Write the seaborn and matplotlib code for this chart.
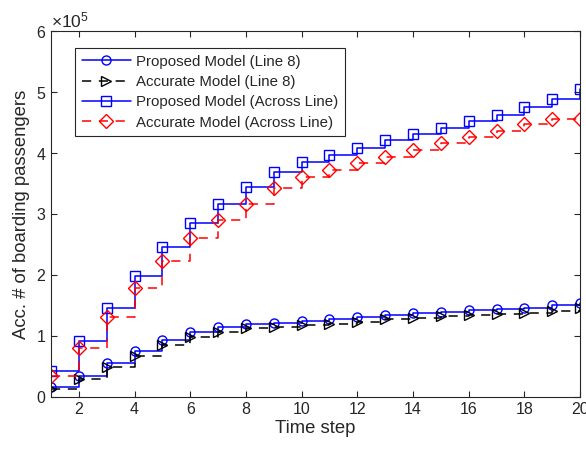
import matplotlib
matplotlib.use("Agg")
from matplotlib import pyplot as plt
import seaborn as sns
import numpy as np

# time steps
steps = list(range(1, 21))

# accumulated boarding passengers, in units of 1e5
proposed_line8 = [0.17, 0.35, 0.56, 0.75, 0.93, 1.07, 1.14, 1.19, 1.22, 1.24,
                  1.27, 1.31, 1.35, 1.37, 1.40, 1.42, 1.44, 1.46, 1.50, 1.54]
accurate_line8 = [0.13, 0.30, 0.49, 0.67, 0.85, 0.99, 1.07, 1.13, 1.15, 1.18,
                  1.20, 1.23, 1.27, 1.29, 1.32, 1.34, 1.36, 1.38, 1.41, 1.45]
proposed_across = [0.42, 0.92, 1.46, 1.99, 2.46, 2.86, 3.17, 3.44, 3.69, 3.86,
                   3.97, 4.09, 4.21, 4.32, 4.41, 4.53, 4.63, 4.75, 4.88, 5.05]
accurate_across = [0.35, 0.80, 1.31, 1.79, 2.23, 2.60, 2.90, 3.16, 3.42, 3.61,
                   3.72, 3.84, 3.94, 4.05, 4.16, 4.27, 4.36, 4.47, 4.56, 4.56]

series = [
    ("Proposed Model (Line 8)", proposed_line8, "#0000ff", "o", "-"),
    ("Accurate Model (Line 8)", accurate_line8, "#000000", ">", "--"),
    ("Proposed Model (Across Line)", proposed_across, "#0000ff", "s", "-"),
    ("Accurate Model (Across Line)", accurate_across, "#ff0000", "D", "--"),
]
msizes = {"o": 6.5, ">": 6.5, "s": 6.5, "D": 7.2}

sns.set_style("ticks")
plt.rcParams["font.family"] = ["Liberation Sans", "DejaVu Sans"]
plt.rcParams["mathtext.fontset"] = "custom"
plt.rcParams["mathtext.rm"] = "Liberation Sans"
plt.rcParams["lines.dashed_pattern"] = [6.0, 5.0]

fig = plt.figure(figsize=(5.86, 4.51), dpi=100)
ax = fig.add_axes([0.087, 0.12, 0.903, 0.811])

for label, vals, col, mk, ls in series:
    y = np.array(vals) * 1e5
    sns.lineplot(x=steps, y=y, ax=ax, color=col, marker=mk, linestyle=ls,
                 drawstyle="steps-post", markerfacecolor="none",
                 markeredgecolor=col, markeredgewidth=1.0,
                 markersize=msizes[mk], linewidth=1.1, label=label)

ax.set_xlim(1, 20)
ax.set_ylim(0, 6e5)
ax.set_xticks(range(2, 21, 2))
ax.set_yticks(np.arange(0, 7) * 1e5)
ax.ticklabel_format(style="sci", axis="y", scilimits=(0, 0), useMathText=True)
ax.yaxis.get_offset_text().set_fontsize(12.5)

ax.tick_params(direction="in", top=True, right=True, length=4,
               labelsize=11.5, color="#262626", labelcolor="#262626", width=0.8)
for s in ax.spines.values():
    s.set_color("#262626")
    s.set_linewidth(0.8)

ax.set_xlabel("Time step", fontsize=13.3, color="#262626", labelpad=2)
ax.set_ylabel("Acc. # of boarding passengers", fontsize=13.3, color="#262626", labelpad=4)

leg = ax.legend(loc="upper left", bbox_to_anchor=(0.045, 0.954), fontsize=10.8,
                frameon=True, fancybox=False, framealpha=1, edgecolor="#262626",
                borderpad=0.45, labelspacing=0.42, handlelength=3.3,
                handletextpad=0.35, borderaxespad=0)
leg.get_frame().set_linewidth(0.8)

fig.savefig("out.png", dpi=100)
